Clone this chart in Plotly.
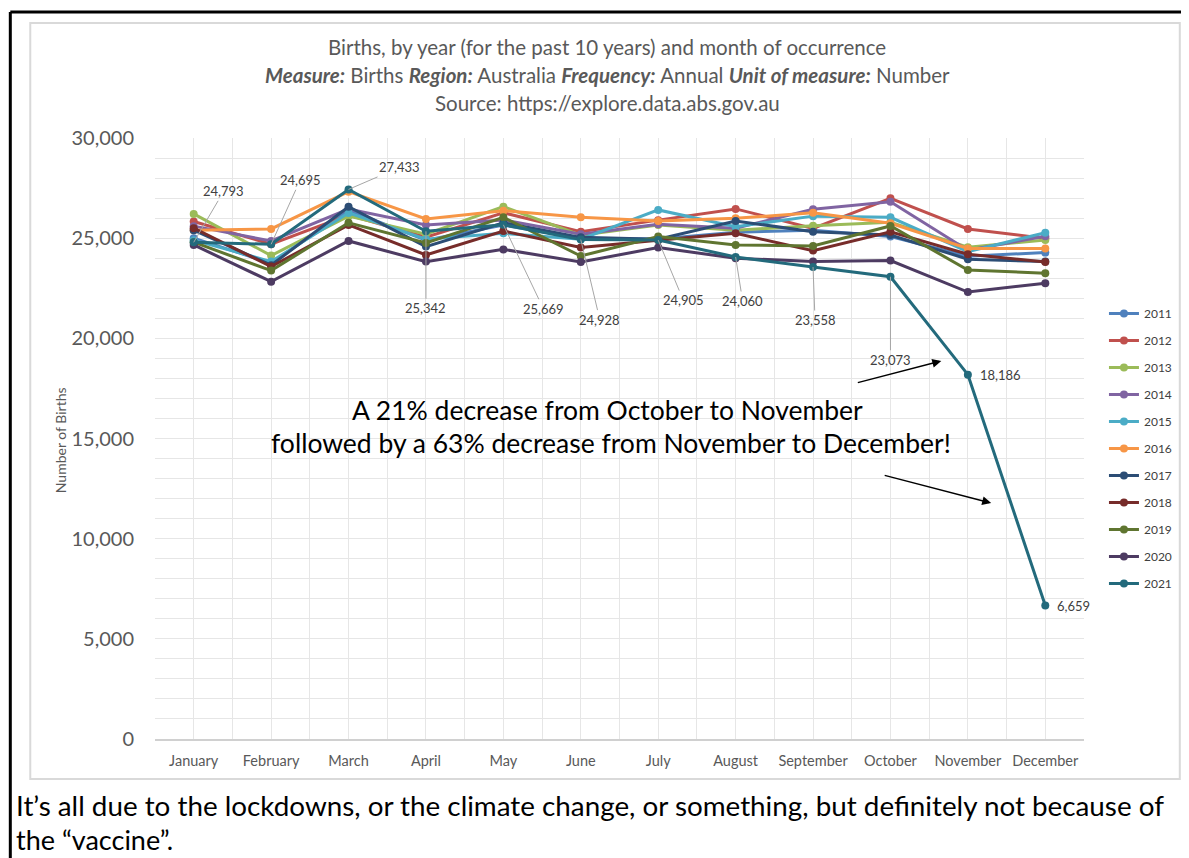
import plotly.graph_objects as go

months = ["January", "February", "March", "April", "May", "June", "July",
          "August", "September", "October", "November", "December"]
years = ["2011", "2012", "2013", "2014", "2015", "2016", "2017", "2018", "2019", "2020", "2021"]

b2011 = [25000, 23750, 26400, 24900, 25650, 25000, 24960, 25290, 25400, 25080, 24100, 24280]
b2012 = [25830, 24700, 26150, 25050, 26270, 25320, 25900, 26460, 25490, 26990, 25460, 24990]
b2013 = [26210, 24130, 26100, 25200, 26570, 25150, 25660, 25400, 25620, 25800, 24550, 24910]
b2014 = [25600, 24860, 26450, 25660, 25910, 25200, 25700, 25500, 26440, 26820, 24400, 25100]
b2015 = [24900, 23830, 26260, 24950, 25240, 24950, 26410, 25570, 26100, 26040, 24330, 25270]
b2016 = [25400, 25460, 27320, 25960, 26370, 26040, 25860, 25990, 26270, 25740, 24490, 24490]
b2017 = [25400, 23650, 26570, 24580, 25770, 25040, 24950, 25860, 25320, 25160, 23950, 23830]
b2018 = [25500, 23580, 25660, 24160, 25360, 24530, 24900, 25240, 24380, 25320, 24200, 23810]
b2019 = [24800, 23380, 25770, 24760, 26040, 24110, 25080, 24660, 24610, 25610, 23410, 23250]
b2020 = [24660, 22830, 24860, 23830, 24440, 23810, 24530, 24000, 23830, 23880, 22310, 22750]
b2021 = [24793, 24695, 27433, 25342, 25669, 24928, 24905, 24060, 23558, 23073, 18186, 6659]

series = [b2011, b2012, b2013, b2014, b2015, b2016, b2017, b2018, b2019, b2020, b2021]
colors = ["#4F81BD", "#C0504D", "#9BBB59", "#8064A2", "#4BACC6", "#F79646",
          "#2C4D75", "#772C2A", "#5F7530", "#4D3B62", "#236A7C"]

FONT = "Lato"
W, H = 1189, 858
OFF = 8  # page body margin
L, R, T, B = 155, 1086, 138, 739


def px(x):
    return (x - L) / (R - L)


def py(y):
    return (B - y) / (B - T)


xidx = list(range(len(months)))

fig = go.Figure()
for name, vals, col in zip(years, series, colors):
    fig.add_trace(go.Scatter(
        x=xidx, y=vals, name=name, mode="lines+markers",
        line=dict(color=col, width=3), marker=dict(color=col, size=8),
        legendgroup=name,
    ))

annotations = []
# data labels for 2021 (offsets in pixels)
offsets = [(30, -51), (29, -64), (51, -22), (0, 77), (40, 84), (19, 80),
           (25, 60), (7, 44), (2, 53), (0, 83)]
for i, (ax, ay) in enumerate(offsets):
    annotations.append(dict(
        x=xidx[i], y=b2021[i], text=f"{b2021[i]:,}", showarrow=True,
        ax=ax, ay=ay, arrowhead=0, arrowwidth=1, arrowcolor="#A6A6A6",
        font=dict(family=FONT, size=13, color="#404040"),
    ))
for i in (10, 11):
    annotations.append(dict(
        x=xidx[i], y=b2021[i], text=f"{b2021[i]:,}", showarrow=False,
        xanchor="left", xshift=10,
        font=dict(family=FONT, size=13, color="#404040"),
    ))

# titles
title_lines = [
    "Births, by year (for the past 10 years) and month of occurrence",
    "<b><i>Measure:</i></b> Births <b><i>Region:</i></b> Australia <b><i>Frequency:</i></b> Annual <b><i>Unit of measure:</i></b> Number",
    "Source: https://explore.data.abs.gov.au",
]
for t, yy in zip(title_lines, [47, 75, 103]):
    annotations.append(dict(
        xref="paper", yref="paper", x=px(608), y=py(yy), text=t, showarrow=False,
        xanchor="center", yanchor="middle",
        font=dict(family=FONT, size=20.5, color="#595959"),
    ))

# y axis title
annotations.append(dict(
    xref="paper", yref="paper", x=px(60), y=py(440), text="Number of Births",
    showarrow=False, textangle=-90, xanchor="center", yanchor="middle",
    font=dict(family=FONT, size=14, color="#595959"),
))

# callout text
annotations.append(dict(
    xref="paper", yref="paper", x=px(608), y=py(410),
    text="A 21% decrease from October to November", showarrow=False,
    xanchor="center", yanchor="middle", font=dict(family=FONT, size=26.5, color="#000000"),
))
annotations.append(dict(
    xref="paper", yref="paper", x=px(612), y=py(443),
    text="followed by a 63% decrease from November to December!", showarrow=False,
    xanchor="center", yanchor="middle", font=dict(family=FONT, size=26.5, color="#000000"),
))
# arrows
annotations.append(dict(
    xref="paper", yref="paper", x=px(943), y=py(361), ax=-85, ay=22, text="",
    showarrow=True, arrowhead=2, arrowsize=1.2, arrowwidth=1.5, arrowcolor="#000000",
))
annotations.append(dict(
    xref="paper", yref="paper", x=px(993), y=py(503), ax=-108, ay=-28, text="",
    showarrow=True, arrowhead=2, arrowsize=1.2, arrowwidth=1.5, arrowcolor="#000000",
))

# bottom caption
annotations.append(dict(
    xref="paper", yref="paper", x=px(14), y=py(806),
    text="It’s all due to the lockdowns, or the climate change, or something, but definitely not because of",
    showarrow=False, xanchor="left", yanchor="middle",
    font=dict(family=FONT, size=27.8, color="#000000"),
))
annotations.append(dict(
    xref="paper", yref="paper", x=px(14), y=py(839),
    text="the “vaccine”.", showarrow=False, xanchor="left", yanchor="middle",
    font=dict(family=FONT, size=27, color="#000000"),
))

shapes = [
    # inner chart frame
    dict(type="rect", xref="paper", yref="paper", x0=px(30), x1=px(1182), y0=py(779), y1=py(23),
         line=dict(color="#D9D9D9", width=2), layer="below"),
    # outer black frame
    dict(type="line", xref="paper", yref="paper", x0=px(10), x1=px(1200), y0=py(12), y1=py(12),
         line=dict(color="#000000", width=3)),
    dict(type="line", xref="paper", yref="paper", x0=px(10), x1=px(10), y0=py(12), y1=py(870),
         line=dict(color="#000000", width=3)),
]

fig.update_layout(
    width=W - OFF, height=H - OFF, autosize=False,
    margin=dict(l=L - OFF, r=W - R, t=T - OFF, b=H - B, pad=0),
    paper_bgcolor="white", plot_bgcolor="white",
    font=dict(family=FONT, color="#595959"),
    showlegend=True,
    legend=dict(x=px(1106), y=py(299), xanchor="left", yanchor="top",
                font=dict(family=FONT, size=12, color="#404040"),
                traceorder="grouped", tracegroupgap=8, bgcolor="rgba(0,0,0,0)"),
    annotations=annotations,
    shapes=shapes,
)
fig.update_xaxes(
    range=[-0.5, 11.5], tickmode="array", tickvals=xidx, ticktext=months,
    showgrid=True, gridcolor="#E6E6E6", gridwidth=1,
    minor=dict(tickmode="array", tickvals=[i - 0.5 for i in range(13)], showgrid=True,
               gridcolor="#E6E6E6", gridwidth=1),
    showline=True, linecolor="#D0D0D0", linewidth=2, zeroline=False,
    tickfont=dict(family=FONT, size=14.5, color="#595959"), ticks="", ticklabelstandoff=8,
)
fig.update_yaxes(
    range=[0, 30000], dtick=5000, tickformat=",", showgrid=True, gridcolor="#E6E6E6", gridwidth=1,
    minor=dict(dtick=1000, showgrid=True, gridcolor="#E6E6E6", gridwidth=1),
    showline=False, zeroline=False, ticks="",
    tickfont=dict(family=FONT, size=20, color="#595959"), ticklabelstandoff=20,
)

fig.write_html("out.html")
